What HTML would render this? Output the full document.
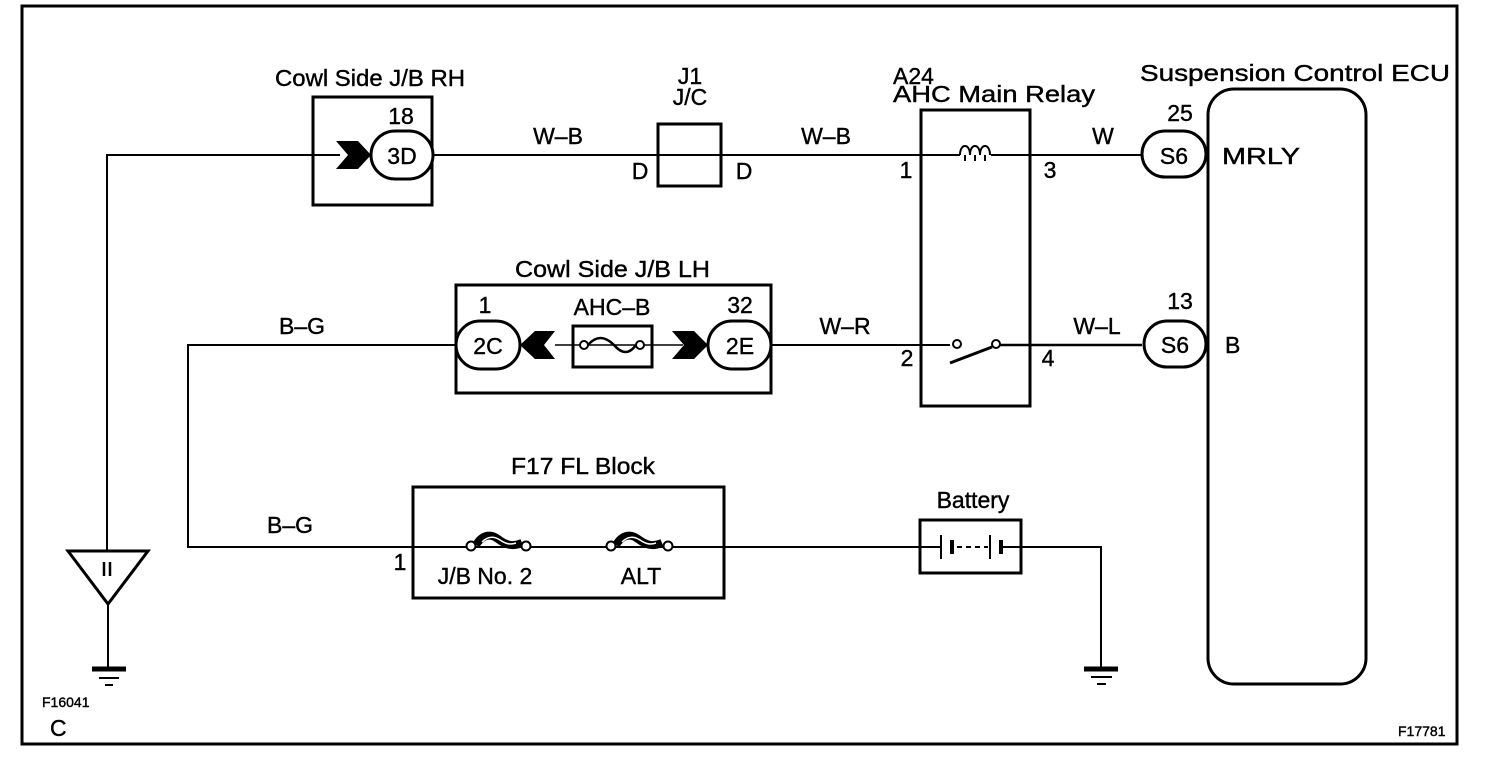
<!DOCTYPE html>
<html><head><meta charset="utf-8"><style>
html,body{margin:0;padding:0;background:#fff;}
svg{display:block;}
text{font-family:"Liberation Sans",Arial,sans-serif;fill:#000;stroke:#000;stroke-width:0.4;}
</style></head><body>
<svg width="1504" height="770" viewBox="0 0 1504 770" xmlns="http://www.w3.org/2000/svg">
<g fill="none" stroke="#000">
<rect x="22" y="6" width="1435" height="738" stroke-width="3"/>
<polyline points="107,550 107,155 340,155" stroke-width="2"/>
<line x1="433" y1="155" x2="1146" y2="155" stroke-width="2"/>
<polyline points="456,345 188,345 188,547 1101,547 1101,667" stroke-width="2"/>
<line x1="771" y1="345" x2="950" y2="345" stroke-width="2"/>
<line x1="998" y1="345" x2="1142" y2="345" stroke-width="2.5"/>
<line x1="555" y1="345" x2="683" y2="345" stroke-width="1.5"/>
<rect x="313" y="97" width="119" height="108" stroke-width="3"/>
<rect x="371" y="131" width="62" height="48" rx="24" stroke-width="3" fill="#fff"/>
<rect x="658" y="124" width="63" height="62" stroke-width="3"/>
<rect x="921" y="110" width="109" height="296" stroke-width="3"/>
<rect x="958" y="146" width="36" height="14" fill="#fff" stroke="none"/>
<line x1="940" y1="155" x2="960" y2="155" stroke-width="2"/>
<line x1="991" y1="155" x2="1010" y2="155" stroke-width="2"/>
<path d="M960,155 c0,-12 10,-12 10,0 c0,-12 10,-12 10,0 c0,-12 10,-12 10,0" stroke-width="2"/>
<line x1="965" y1="155" x2="965" y2="161" stroke-width="2"/>
<line x1="975" y1="155" x2="975" y2="161" stroke-width="2"/>
<line x1="985" y1="155" x2="985" y2="161" stroke-width="2"/>
<circle cx="957" cy="344" r="4" stroke-width="2" fill="#fff"/>
<circle cx="996" cy="344" r="4" stroke-width="2" fill="#fff"/>
<line x1="950" y1="363" x2="992" y2="347" stroke-width="3"/>
<rect x="1142" y="131" width="64" height="46" rx="23" stroke-width="3" fill="#fff"/>
<rect x="1144" y="321" width="62" height="46" rx="23" stroke-width="3" fill="#fff"/>
<rect x="1208" y="89" width="158" height="595" rx="26" stroke-width="3"/>
<rect x="456" y="285" width="315" height="108" stroke-width="3"/>
<rect x="456" y="321" width="64" height="48" rx="24" stroke-width="3" fill="#fff"/>
<rect x="708" y="321" width="63" height="48" rx="24" stroke-width="3" fill="#fff"/>
<rect x="573" y="326" width="79" height="41" stroke-width="3"/>
<circle cx="584" cy="345" r="4" stroke-width="2" fill="#fff"/>
<circle cx="640" cy="345" r="4" stroke-width="2" fill="#fff"/>
<path d="M588,345 q12,-14 26,0 q12,14 22,0" stroke-width="2.5"/>
<rect x="413" y="487" width="311" height="111" stroke-width="3"/>
<path d="M476,545 c6,-10 14,-12 22,-6 c8,6 14,8 24,4" stroke-width="8"/>
<path d="M616,545 c6,-10 14,-12 22,-6 c8,6 14,8 24,4" stroke-width="8"/>
<path d="M482,542 c6,-6 12,-6 18,-2 c6,4 10,5 16,3" stroke="#fff" stroke-width="1.5"/>
<path d="M622,542 c6,-6 12,-6 18,-2 c6,4 10,5 16,3" stroke="#fff" stroke-width="1.5"/>
<circle cx="471" cy="546" r="4.5" stroke-width="2" fill="#fff"/>
<circle cx="526" cy="546" r="4.5" stroke-width="2" fill="#fff"/>
<circle cx="611" cy="546" r="4.5" stroke-width="2" fill="#fff"/>
<circle cx="668" cy="546" r="4.5" stroke-width="2" fill="#fff"/>
<rect x="920" y="520" width="101" height="53" stroke-width="3" fill="#fff"/>
<line x1="900" y1="547" x2="940" y2="547" stroke-width="2"/>
<line x1="1001" y1="547" x2="1040" y2="547" stroke-width="2"/>
<line x1="941" y1="535" x2="941" y2="559" stroke-width="2"/>
<line x1="952" y1="540" x2="952" y2="554" stroke-width="4"/>
<line x1="957" y1="547" x2="988" y2="547" stroke-width="2" stroke-dasharray="5,4"/>
<line x1="990" y1="535" x2="990" y2="559" stroke-width="2"/>
<line x1="1001" y1="540" x2="1001" y2="554" stroke-width="4"/>
<polygon points="68,551 148,551 108,604" stroke-width="3"/>
<line x1="104" y1="562" x2="104" y2="576" stroke-width="2.5"/>
<line x1="110" y1="562" x2="110" y2="576" stroke-width="2.5"/>
<line x1="108" y1="604" x2="108" y2="668" stroke-width="2"/>
<line x1="92" y1="669" x2="126" y2="669" stroke-width="5"/>
<line x1="99" y1="678" x2="119" y2="678" stroke-width="2"/>
<line x1="105" y1="685" x2="113" y2="685" stroke-width="2"/>
<line x1="1084" y1="669" x2="1118" y2="669" stroke-width="5"/>
<line x1="1091" y1="677" x2="1112" y2="677" stroke-width="2"/>
<line x1="1097" y1="684" x2="1106" y2="684" stroke-width="2"/>
</g>
<polygon points="336,141 358,141 371,155 358,169 336,169 348,155" fill="#000"/>
<polygon points="555,331 535,331 520,345 535,359 555,359 544,345" fill="#000"/>
<polygon points="672,331 694,331 708,345 694,359 672,359 684,345" fill="#000"/>
<g font-size="23">
<text x="275" y="86" textLength="190" lengthAdjust="spacingAndGlyphs">Cowl Side J/B RH</text>
<text x="401" y="124" text-anchor="middle">18</text>
<text x="402" y="164" text-anchor="middle">3D</text>
<text x="558" y="144" text-anchor="middle">W–B</text>
<text x="690" y="84" text-anchor="middle">J1</text>
<text x="690" y="105" text-anchor="middle">J/C</text>
<text x="640" y="179" text-anchor="middle">D</text>
<text x="744" y="179" text-anchor="middle">D</text>
<text x="826" y="144" text-anchor="middle">W–B</text>
<text x="893" y="84">A24</text>
<text x="893" y="102" textLength="202" lengthAdjust="spacingAndGlyphs">AHC Main Relay</text>
<text x="906" y="178" text-anchor="middle">1</text>
<text x="1050" y="178" text-anchor="middle">3</text>
<text x="1103" y="144" text-anchor="middle">W</text>
<text x="1180" y="121" text-anchor="middle">25</text>
<text x="1174" y="164" text-anchor="middle">S6</text>
<text x="1222" y="164" textLength="78" lengthAdjust="spacingAndGlyphs">MRLY</text>
<text x="1140" y="81" textLength="310" lengthAdjust="spacingAndGlyphs">Suspension Control ECU</text>
<text x="515" y="277" textLength="195" lengthAdjust="spacingAndGlyphs">Cowl Side J/B LH</text>
<text x="485" y="313" text-anchor="middle">1</text>
<text x="612" y="315" text-anchor="middle">AHC–B</text>
<text x="740" y="313" text-anchor="middle">32</text>
<text x="488" y="354" text-anchor="middle">2C</text>
<text x="740" y="354" text-anchor="middle">2E</text>
<text x="302" y="334" text-anchor="middle">B–G</text>
<text x="845" y="334" text-anchor="middle">W–R</text>
<text x="907" y="366" text-anchor="middle">2</text>
<text x="1048" y="366" text-anchor="middle">4</text>
<text x="1097" y="334" text-anchor="middle">W–L</text>
<text x="1180" y="309" text-anchor="middle">13</text>
<text x="1175" y="353" text-anchor="middle">S6</text>
<text x="1225" y="353">B</text>
<text x="511" y="474" textLength="144" lengthAdjust="spacingAndGlyphs">F17 FL Block</text>
<text x="290" y="533" text-anchor="middle">B–G</text>
<text x="400" y="570" text-anchor="middle">1</text>
<text x="485" y="584" text-anchor="middle">J/B No. 2</text>
<text x="641" y="584" text-anchor="middle">ALT</text>
<text x="973" y="508" text-anchor="middle">Battery</text>
<text x="50" y="736">C</text>
</g>
<g font-size="14">
<text x="42" y="707">F16041</text>
<text x="1398" y="736">F17781</text>
</g>
</svg>
</body></html>
